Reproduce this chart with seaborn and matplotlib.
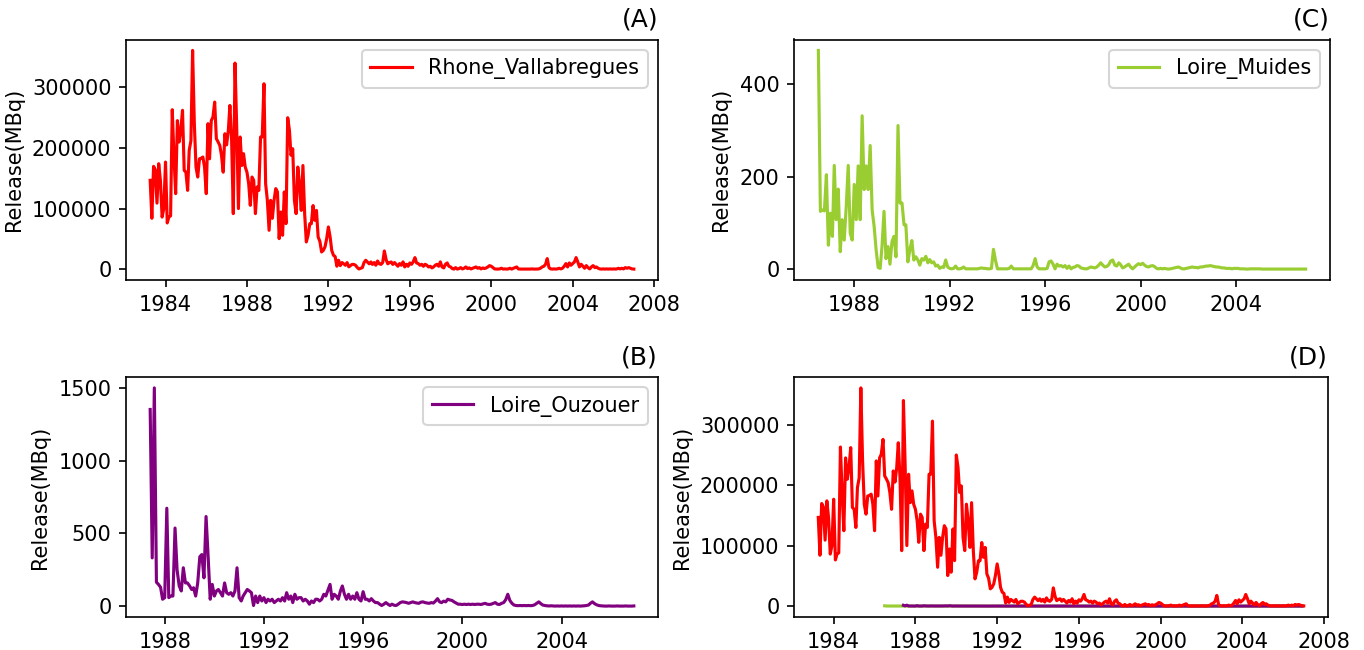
import numpy as np
import pandas as pd
import matplotlib
matplotlib.use("Agg")
import matplotlib.pyplot as plt
import seaborn as sns

# Monthly releases (MBq) per monitoring station
rhone_start = "1983-04-01"
rhone_values = [
    146600, 84000, 169600, 164000, 109000, 174000, 146600, 86000, 100000, 176700,
    76300, 86000, 88000, 263000, 185000, 124600, 245000, 209700, 229000, 262000,
    163000, 160000, 130000, 196000, 212000, 360700, 240000, 168500, 152000, 182000,
    183000, 185000, 168500, 124600, 240000, 182000, 245000, 250900, 275600, 215200,
    210000, 204000, 188000, 160000, 223400, 205000, 229000, 270000, 212000, 91700,
    339800, 234400, 100000, 218000, 171000, 190500, 168500, 160000, 141000, 105400,
    152000, 146600, 91700, 135600, 130000, 218000, 218000, 305800, 141000, 113600,
    64200, 113600, 84000, 113600, 132900, 127500, 50500, 94400, 56000, 127500,
    75200, 249800, 229000, 188000, 198700, 113600, 91700, 168500, 141000, 97000,
    171000, 91700, 45000, 56000, 75000, 75000, 105000, 80700, 97000, 53200,
    46000, 28500, 31000, 36800, 50500, 69700, 53200, 31000, 23000, 21000,
    5000, 14800, 6000, 11000, 9000, 6600, 11000, 4000, 6000, 8000,
    8000, 6600, 3000, 500, 1500, 2700, 11000, 14800, 12000, 9000,
    12000, 8000, 11000, 6600, 13600, 9000, 8000, 11000, 30100, 16000,
    9000, 11000, 12000, 8000, 11000, 8000, 5000,
    9300, 6600, 12100, 3800, 8200, 4900, 10400, 8200, 12100, 19200,
    10400, 9300, 6600, 8200, 4900, 8200, 6600, 3800, 4900, 2200,
    3800, 6600, 8200, 4900, 12100, 3800, 2200, 8200, 10400, 4900,
    3800, 1100, 300, 2700, 300, 1100, 2700, 550, 1650, 3800,
    1100, 2200, 550, 1650, 2700, 3800, 1650, 2700, 550, 2200,
    1100, 2200, 3800, 6000, 4900, 2700, 550, 300, 300, 550,
    1650, 300, 550, 300, 550, 1650, 300, 1650, 2700, 3800,
    550, 300, 300, 300, 300, 300, 300, 300, 550, 300,
    300, 300, 550, 1650, 3800, 4900, 8200, 17600, 2700, 550,
    300, 550, 300, 550, 1650, 550, 1650, 4900, 9300, 3800,
    10400, 6600, 9300, 12100, 19200, 12100, 3800, 8200, 4900, 1650,
    6000, 2700, 550, 3800, 6000, 2700, 3800, 1650, 550, 300,
    550, 300, 550, 300, 550, 300, 550, 300, 550, 1650,
    550, 1650, 550, 2700, 1650, 2700, 1650, 550, 300,
]

muides_start = "1986-07-01"
muides_values = [
    472, 125, 128, 126, 204, 52, 121, 71, 224, 107,
    173, 38, 107, 63, 136, 224, 78, 63, 183, 107,
    223, 107, 331, 172, 223, 172, 267, 128, 92, 42,
    4, 2, 49, 125, 23, 49, 11, 60, 71, 27,
    310, 143, 143, 96, 96, 16, 42, 62, 20, 27,
    20, 9, 23, 20, 28, 14, 21, 14, 16, 7,
    9, 2, 5, 4, 20, 5, 2, 1, 2, 7,
    1, 1, 2, 5, 1, 1, 1, 1, 1, 1,
    1, 2, 3, 2, 2, 1, 1, 2, 43, 20,
    1, 1, 1, 1, 1, 1, 2, 7, 1, 1,
    1, 1, 1, 1, 1, 1, 1, 1, 8, 23,
    5, 1, 1, 1, 1, 2, 16, 18, 11, 1,
    11, 7, 8, 5, 8, 2, 7, 1, 4, 5,
    8, 7,
    3, 2, 1, 1, 3, 5, 4, 3, 5, 9,
    14, 9, 5, 6, 10, 18, 20, 9, 7, 14,
    10, 3, 5, 8, 11, 5, 1, 5, 9, 12,
    10, 13, 9, 6, 5, 7, 8, 6, 2, 1,
    2, 1, 2, 1, 0.5, 1, 2, 3, 4, 5,
    3, 1, 1, 2, 3, 4, 5, 4, 4, 3,
    5, 5, 6, 7, 7, 8, 7, 6, 5, 5,
    4, 3, 3, 2, 2, 2, 1, 2, 2, 2,
    1, 1, 1, 0.5, 0.5, 1, 1, 1, 1, 1,
    1, 0.5, 0.5, 0.5, 0.5, 0.5, 0.5, 0.5, 0.5, 0.5,
    0.5, 0.5, 0.5, 0.5, 0.5, 0.5, 0.5, 0.5, 0.5, 0.5,
    0.5, 0.5, 0.5, 0.5,
]

ouzouer_start = "1987-06-01"
ouzouer_values = [
    1351, 332, 1499, 165, 150, 130, 48, 59, 673, 59,
    70, 70, 537, 250, 140, 105, 264, 160, 160, 140,
    115, 127, 70, 160, 340, 355, 195, 616, 345, 48,
    150, 70, 105, 115, 93, 70, 160, 93, 82, 93,
    70, 105, 264, 59, 36, 70, 93, 115, 105, 93,
    5, 70, 25, 70, 36, 59, 25, 48, 36, 48,
    25, 36, 48, 36, 59, 36, 93, 48, 70, 25,
    82, 48, 59, 59, 36, 48, 36, 14, 36, 25,
    48, 48, 36, 48, 82, 70, 110, 150, 48, 82,
    70, 48, 105, 139, 82, 48, 82, 48, 70, 48,
    93, 48, 36, 100, 48, 48, 36, 52, 36, 25,
    25, 14, 5, 14, 25, 14, 5, 14, 7, 5,
    14,
    25, 30, 28, 25, 20, 25, 30, 25, 22, 20,
    28, 30, 25, 22, 20, 25, 22, 35, 52, 30,
    25, 35, 30, 48, 43, 40, 30, 22, 14, 14,
    12, 14, 12, 14, 12, 14, 12, 14, 14, 12,
    16, 20, 14, 12, 14, 20, 25, 14, 12, 20,
    25, 45, 82, 40, 20, 8, 5, 4, 5, 4,
    5, 4, 5, 4, 5, 10, 20, 30, 18, 8,
    5, 3, 2, 3, 2, 1, 2, 1, 2, 1,
    2, 1, 2, 1, 2, 1, 2, 1, 2, 3,
    5, 8, 20, 30, 18, 10, 5, 3, 2, 1,
    1, 2, 1, 1, 1, 2, 1, 1, 1, 2,
    1, 1, 1, 2,
]

station_names = ["Rhone_Vallabregues", "Loire_Muides", "Loire_Ouzouer"]
station_colors = ["red", "yellowgreen", "purple"]


def monthly_frame(start, values):
    dates = pd.date_range(start=start, periods=len(values), freq="MS")
    return pd.DataFrame({"date": dates, "release": values})


rhone = monthly_frame(rhone_start, rhone_values)
muides = monthly_frame(muides_start, muides_values)
ouzouer = monthly_frame(ouzouer_start, ouzouer_values)

W, H = 1364, 650
fig = plt.figure(figsize=(W / 150, H / 150), dpi=150)


def box(left, top, right, bottom):
    return [left / W, 1 - bottom / H, (right - left) / W, (bottom - top) / H]


ax_a = fig.add_axes(box(126, 39.5, 658, 280))
ax_c = fig.add_axes(box(794, 39.5, 1330, 280))
ax_b = fig.add_axes(box(126, 377, 658, 617))
ax_d = fig.add_axes(box(794, 377, 1328, 617))

sns.lineplot(data=rhone, x="date", y="release", ax=ax_a,
             color=station_colors[0], label=station_names[0], linewidth=1.5)
sns.lineplot(data=muides, x="date", y="release", ax=ax_c,
             color=station_colors[1], label=station_names[1], linewidth=1.5)
sns.lineplot(data=ouzouer, x="date", y="release", ax=ax_b,
             color=station_colors[2], label=station_names[2], linewidth=1.5)

# Combined panel: all three stations on the same scale
sns.lineplot(data=muides, x="date", y="release", ax=ax_d,
             color=station_colors[1], linewidth=1.5)
sns.lineplot(data=ouzouer, x="date", y="release", ax=ax_d,
             color=station_colors[2], linewidth=1.5)
sns.lineplot(data=rhone, x="date", y="release", ax=ax_d,
             color=station_colors[0], linewidth=1.5)

for ax, tag in [(ax_a, "(A)"), (ax_b, "(B)"), (ax_c, "(C)"), (ax_d, "(D)")]:
    ax.set_title(tag, loc="right")
    ax.set_xlabel("")
    ax.set_ylabel("Release(MBq)")
    leg = ax.get_legend()
    if leg is not None:
        ax.legend(loc="upper right")

fig.savefig("out.png", dpi=150)
